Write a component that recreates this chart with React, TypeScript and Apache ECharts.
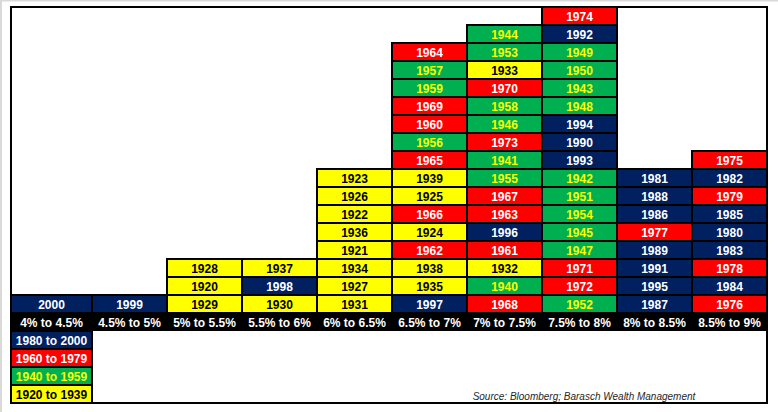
import React, { useEffect, useRef } from "react";
import * as echarts from "echarts";

// Return-range categories (x axis)
const categories = [
  "4% to 4.5%",
  "4.5% to 5%",
  "5% to 5.5%",
  "5.5% to 6%",
  "6% to 6.5%",
  "6.5% to 7%",
  "7% to 7.5%",
  "7.5% to 8%",
  "8% to 8.5%",
  "8.5% to 9%",
];

// Years falling in each bin, listed from bottom to top
const bin4to45 = [2000];
const bin45to5 = [1999];
const bin5to55 = [1929, 1920, 1928];
const bin55to6 = [1930, 1998, 1937];
const bin6to65 = [1931, 1927, 1934, 1921, 1936, 1922, 1926, 1923];
const bin65to7 = [1997, 1935, 1938, 1962, 1924, 1966, 1925, 1939, 1965, 1956, 1960, 1969, 1959, 1957, 1964];
const bin7to75 = [1968, 1940, 1932, 1961, 1996, 1963, 1967, 1955, 1941, 1973, 1946, 1958, 1970, 1933, 1953, 1944];
const bin75to8 = [1952, 1972, 1971, 1947, 1945, 1954, 1951, 1942, 1993, 1990, 1994, 1948, 1943, 1950, 1949, 1992, 1974];
const bin8to85 = [1987, 1995, 1991, 1989, 1977, 1986, 1988, 1981];
const bin85to9 = [1976, 1984, 1978, 1983, 1980, 1985, 1979, 1982, 1975];

const bins = [bin4to45, bin45to5, bin5to55, bin55to6, bin6to65, bin65to7, bin7to75, bin75to8, bin8to85, bin85to9];

// Eras (legend)
const eraLabels = ["1980 to 2000", "1960 to 1979", "1940 to 1959", "1920 to 1939"];
const eraStarts = [1980, 1960, 1940, 1920];

const sourceText = "Source: Bloomberg; Barasch Wealth Management";

// Palette
const eraFills = ["#002060", "#FF0000", "#00B050", "#FFFF00"];
const eraTextColors = ["#FFFFFF", "#FFFFFF", "#FFFF00", "#000000"];
const FONT = '"Liberation Sans", Arial, sans-serif';

function eraOf(year: number): number {
  for (let i = 0; i < eraStarts.length; i++) {
    if (year >= eraStarts[i]) return i;
  }
  return eraStarts.length - 1;
}

export default function App() {
  const ref = useRef<HTMLDivElement | null>(null);

  useEffect(() => {
    if (!ref.current) return;
    const chart = echarts.init(ref.current, undefined, { renderer: "svg" });

    const cellData: number[][] = [];
    bins.forEach((years, col) => {
      years.forEach((year, row) => {
        cellData.push([col, row, year, eraOf(year)]);
      });
    });

    const maxRows = Math.max(...bins.map((b) => b.length));

    const legendX = 11;
    const legendW = 81;
    const legendTop = 331;
    const legendRowH = 18;

    const legendGraphics: any[] = [];
    eraLabels.forEach((label, i) => {
      legendGraphics.push({
        type: "rect",
        z: 5,
        shape: { x: legendX, y: legendTop + i * legendRowH, width: legendW, height: legendRowH },
        style: { fill: eraFills[i], stroke: "#000", lineWidth: 2 },
      });
      legendGraphics.push({
        type: "text",
        z: 6,
        style: {
          text: label,
          x: legendX + legendW / 2,
          y: legendTop + i * legendRowH + legendRowH / 2 + 0.5,
          align: "center",
          verticalAlign: "middle",
          fill: eraTextColors[i],
          fontSize: 12,
          fontWeight: "bold",
          fontFamily: FONT,
        },
      });
    });

    const labelStyle = {
      color: "#FFFFFF",
      fontSize: 12,
      fontWeight: "bold",
      fontFamily: FONT,
      verticalAlign: "middle",
    };

    chart.setOption({
      animation: false,
      backgroundColor: "#FFFFFF",
      grid: { left: 17, right: 11, top: 7, bottom: 99, containLabel: false },
      xAxis: {
        type: "category",
        data: categories.map((c, i) =>
          i === 0 ? { value: c, textStyle: { ...labelStyle, padding: [0, 6, 0, 0] } } : c
        ),
        z: 10,
        axisLine: { show: false },
        axisTick: { show: false },
        splitLine: { show: false },
        axisLabel: {
          interval: 0,
          ...labelStyle,
          margin: 10,
        },
      },
      yAxis: {
        type: "value",
        min: 0,
        max: maxRows,
        show: false,
        splitLine: { show: false },
      },
      graphic: [
        { type: "rect", z: 0, shape: { x: 0, y: 0, width: 778, height: 1.5 }, style: { fill: "#D9D9D9" } },
        { type: "rect", z: 0, shape: { x: 0, y: 0, width: 2, height: 412 }, style: { fill: "#D9D9D9" } },
        { type: "rect", z: 1, shape: { x: 11, y: 313, width: 756, height: 18 }, style: { fill: "#000" } },
        ...legendGraphics,
        {
          type: "text",
          z: 6,
          style: {
            text: sourceText,
            x: 584,
            y: 396,
            align: "center",
            verticalAlign: "middle",
            fill: "#262626",
            fontSize: 10,
            fontStyle: "italic",
            fontFamily: FONT,
          },
        },
        {
          type: "rect",
          z: 20,
          shape: { x: 11, y: 7, width: 756, height: 396 },
          style: { fill: "none", stroke: "#000", lineWidth: 2 },
        },
      ],
      series: [
        {
          type: "custom",
          z: 5,
          encode: { x: 0, y: 1 },
          data: cellData,
          renderItem: (params: any, api: any) => {
            const col = api.value(0) as number;
            const row = api.value(1) as number;
            const year = api.value(2) as number;
            const era = api.value(3) as number;
            const top = api.coord([col, row + 1]);
            const bottom = api.coord([col, row]);
            const bw = api.size([1, 0])[0];
            let x0 = top[0] - bw / 2;
            const x1 = top[0] + bw / 2;
            if (col === 0) x0 = params.coordSys.x - 6;
            return {
              type: "group",
              children: [
                {
                  type: "rect",
                  shape: { x: x0, y: top[1], width: x1 - x0, height: bottom[1] - top[1] },
                  style: { fill: eraFills[era], stroke: "#000", lineWidth: 2 },
                },
                {
                  type: "text",
                  style: {
                    text: String(year),
                    x: (x0 + x1) / 2,
                    y: (top[1] + bottom[1]) / 2 + 0.5,
                    align: "center",
                    verticalAlign: "middle",
                    fill: eraTextColors[era],
                    fontSize: 12,
                    fontWeight: "bold",
                    fontFamily: FONT,
                  },
                },
              ],
            };
          },
        },
      ],
    });

    return () => {
      chart.dispose();
    };
  }, []);

  return (
    <div
      ref={ref}
      style={{ position: "fixed", left: 0, top: 0, width: 778, height: 412, background: "#FFFFFF" }}
    />
  );
}
